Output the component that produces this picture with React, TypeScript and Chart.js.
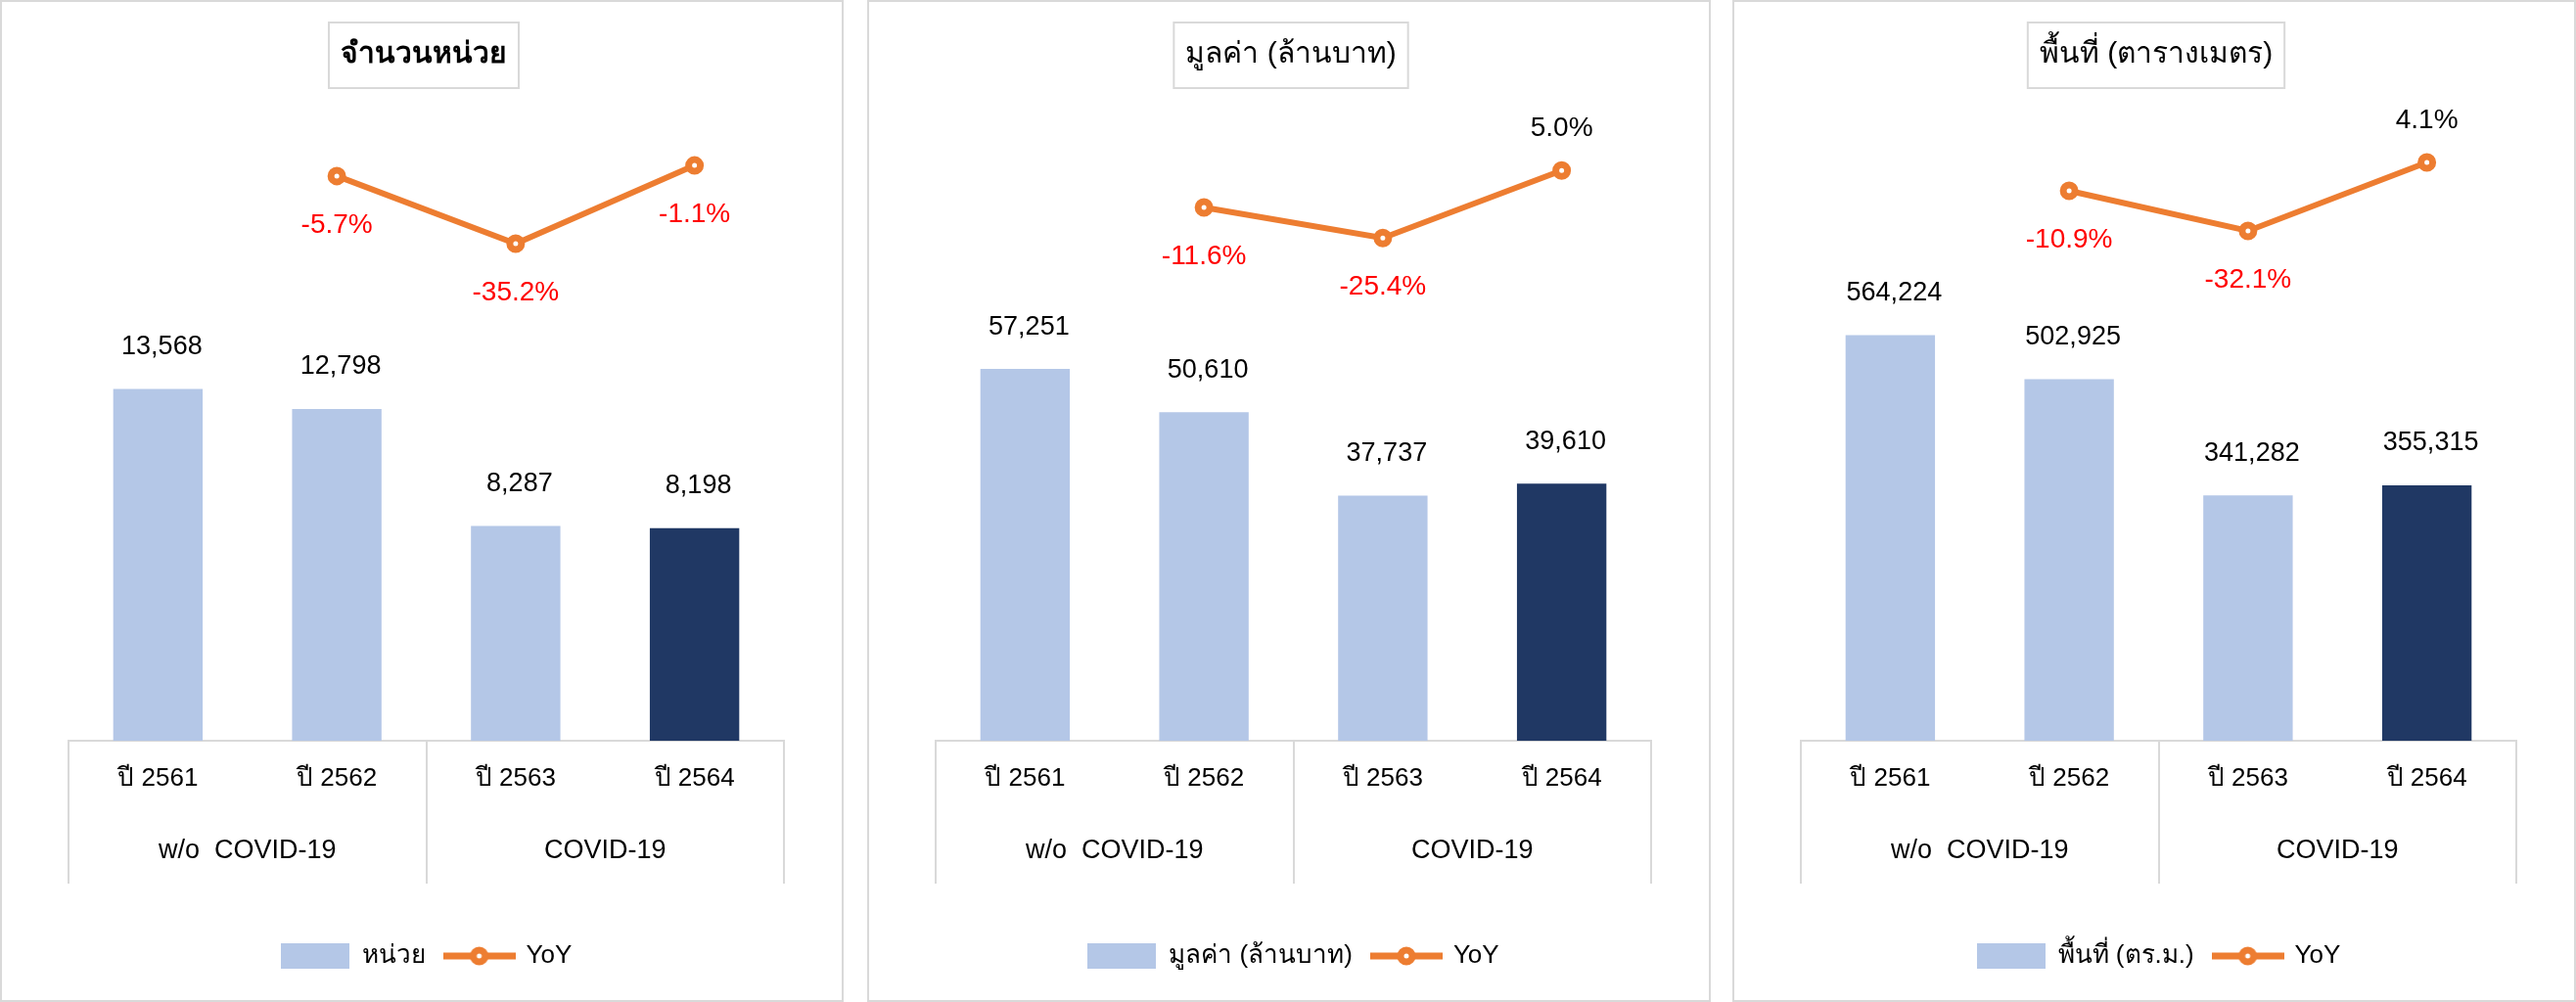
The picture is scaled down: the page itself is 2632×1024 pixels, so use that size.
import { useEffect, useRef } from 'react';
import { Chart, registerables } from 'chart.js';

Chart.register(...registerables);

Chart.defaults.font.family = '"Liberation Sans", Arial, "Noto Sans", sans-serif';

// shared axis
const categories = ['ปี 2561', 'ปี 2562', 'ปี 2563', 'ปี 2564'];
const groups = ['w/o  COVID-19', 'COVID-19'];
const barColors = ['#B4C7E7', '#B4C7E7', '#B4C7E7', '#203864'];

// จำนวนหน่วย
const unitCount = [13568, 12798, 8287, 8198];
const unitYoY = [null, -5.7, -35.2, -1.1];

// มูลค่า (ล้านบาท)
const valueMB = [57251, 50610, 37737, 39610];
const valueYoY = [null, -11.6, -25.4, 5.0];

// พื้นที่ (ตารางเมตร)
const areaSqm = [564224, 502925, 341282, 355315];
const areaYoY = [null, -10.9, -32.1, 4.1];

const ORANGE = '#ED7D31';
const GRID = '#D9D9D9';

type PanelCfg = {
    title: string;
    titleBold: boolean;
    legend: string;
    values: number[];
    yoy: (number | null)[];
    barMax: number;
    lineMin: number;
    lineMax: number;
    left: number;
};

const panels: PanelCfg[] = [
    { title: 'จำนวนหน่วย', titleBold: true, legend: 'หน่วย', values: unitCount, yoy: unitYoY, barMax: 24800, lineMin: -252, lineMax: 28.4, left: 0 },
    { title: 'มูลค่า (ล้านบาท)', titleBold: false, legend: 'มูลค่า (ล้านบาท)', values: valueMB, yoy: valueYoY, barMax: 99000, lineMin: -251.7, lineMax: 37.7, left: 886 },
    { title: 'พื้นที่ (ตารางเมตร)', titleBold: false, legend: 'พื้นที่ (ตร.ม.)', values: areaSqm, yoy: areaYoY, barMax: 894500, lineMin: -301.5, lineMax: 38.2, left: 1770 }
];

function legendIcons() {
    const bar = document.createElement('canvas');
    bar.width = 70;
    bar.height = 26;
    const b = bar.getContext('2d')!;
    b.fillStyle = '#B4C7E7';
    b.fillRect(0, 0, 70, 26);

    const line = document.createElement('canvas');
    line.width = 74;
    line.height = 26;
    const l = line.getContext('2d')!;
    l.strokeStyle = ORANGE;
    l.lineWidth = 7;
    l.beginPath();
    l.moveTo(0, 13);
    l.lineTo(74, 13);
    l.stroke();
    l.beginPath();
    l.arc(37, 13, 6, 0, Math.PI * 2);
    l.fillStyle = '#fff';
    l.fill();
    l.stroke();
    return { bar, line };
}

function Panel({ cfg }: { cfg: PanelCfg }) {
    const canvasRef = useRef<HTMLCanvasElement | null>(null);

    useEffect(() => {
        if (!canvasRef.current) return;
        const icons = legendIcons();

        const decor = {
            id: 'decor',
            afterDatasetsDraw(chart: Chart) {
                const ctx = chart.ctx;
                ctx.save();
                ctx.textAlign = 'center';
                ctx.textBaseline = 'middle';

                // bar values
                ctx.font = '27px "Liberation Sans", Arial, sans-serif';
                ctx.fillStyle = '#000';
                chart.getDatasetMeta(0).data.forEach((el: any, i) => {
                    ctx.fillText(cfg.values[i].toLocaleString('en-US'), el.x + 4, el.y - 43);
                });

                // YoY labels
                ctx.font = '28px "Liberation Sans", Arial, sans-serif';
                chart.getDatasetMeta(1).data.forEach((el: any, i) => {
                    const v = cfg.yoy[i];
                    if (v == null) return;
                    ctx.fillStyle = v < 0 ? '#FF0000' : '#000';
                    ctx.fillText(v.toFixed(1) + '%', el.x, v < 0 ? el.y + 50 : el.y - 43);
                });

                // group labels under the category axis
                const x = chart.scales.x;
                const base = chart.chartArea.bottom;
                ctx.font = '27px "Liberation Sans", Arial, sans-serif';
                ctx.fillStyle = '#000';
                groups.forEach((g, gi) => {
                    const cx = (x.getPixelForValue(gi * 2) + x.getPixelForValue(gi * 2 + 1)) / 2;
                    ctx.fillText(g, cx, base + 113);
                });
                ctx.restore();
            },
            afterDraw(chart: Chart) {
                const ctx = chart.ctx;
                ctx.save();
                ctx.font = (cfg.titleBold ? 'bold ' : '') + '30px "Liberation Sans", Arial, sans-serif';
                const w = ctx.measureText(cfg.title).width + 24;
                const cx = chart.width / 2 + 2;
                ctx.strokeStyle = GRID;
                ctx.lineWidth = 2;
                ctx.strokeRect(cx - w / 2, 21, w, 67);
                ctx.fillStyle = '#000';
                ctx.textAlign = 'center';
                ctx.textBaseline = 'middle';
                ctx.fillText(cfg.title, cx, 54);
                ctx.restore();
            }
        };

        const chart = new Chart(canvasRef.current, {
            type: 'bar',
            data: {
                labels: categories,
                datasets: [
                    {
                        type: 'bar',
                        label: cfg.legend,
                        data: cfg.values,
                        backgroundColor: barColors,
                        categoryPercentage: 1,
                        barPercentage: 0.5,
                        yAxisID: 'y',
                        order: 2
                    },
                    {
                        type: 'line',
                        label: 'YoY',
                        data: cfg.yoy as any,
                        borderColor: ORANGE,
                        borderWidth: 6,
                        pointRadius: 6,
                        pointBorderWidth: 7,
                        pointBackgroundColor: '#fff',
                        pointBorderColor: ORANGE,
                        yAxisID: 'y1',
                        order: 1
                    }
                ]
            },
            options: {
                responsive: false,
                animation: false,
                layout: { padding: { top: 98, left: 68, right: 59, bottom: 22 } },
                plugins: {
                    tooltip: { enabled: false },
                    legend: {
                        position: 'bottom',
                        labels: {
                            usePointStyle: true,
                            pointStyleWidth: 70,
                            boxHeight: 26,
                            padding: 20,
                            color: '#000',
                            font: { size: 26 },
                            generateLabels: () => [
                                { text: cfg.legend, pointStyle: icons.bar, fillStyle: '#B4C7E7', strokeStyle: '#B4C7E7', lineWidth: 0, hidden: false, datasetIndex: 0 },
                                { text: 'YoY', pointStyle: icons.line, fillStyle: ORANGE, strokeStyle: ORANGE, lineWidth: 0, hidden: false, datasetIndex: 1 }
                            ] as any
                        }
                    }
                },
                scales: {
                    x: {
                        grid: {
                            offset: true,
                            drawOnChartArea: false,
                            drawTicks: true,
                            tickLength: 146,
                            lineWidth: 2,
                            color: (c: any) => (c.index === 1 || c.index === 3 ? 'rgba(0,0,0,0)' : GRID)
                        },
                        border: { display: true, color: GRID, width: 2 },
                        ticks: { padding: -123, color: '#000', font: { size: 26 }, maxRotation: 0, autoSkip: false },
                        afterFit: (s: any) => {
                            s.height = 187;
                        }
                    },
                    y: { display: false, min: 0, max: cfg.barMax },
                    y1: { display: false, min: cfg.lineMin, max: cfg.lineMax }
                }
            },
            plugins: [decor]
        });
        return () => chart.destroy();
    }, [cfg]);

    return (
        <div
            style={{
                position: 'absolute',
                left: cfg.left,
                top: 0,
                width: 862,
                height: 1024,
                boxSizing: 'border-box',
                border: `2px solid ${GRID}`,
                background: '#fff'
            }}
        >
            <canvas ref={canvasRef} width={858} height={1020} />
        </div>
    );
}

export default function App() {
    return (
        <div style={{ position: 'fixed', left: 0, top: 0, width: 2632, height: 1024, background: '#fff' }}>
            {panels.map((p) => (
                <Panel key={p.title} cfg={p} />
            ))}
        </div>
    );
}
